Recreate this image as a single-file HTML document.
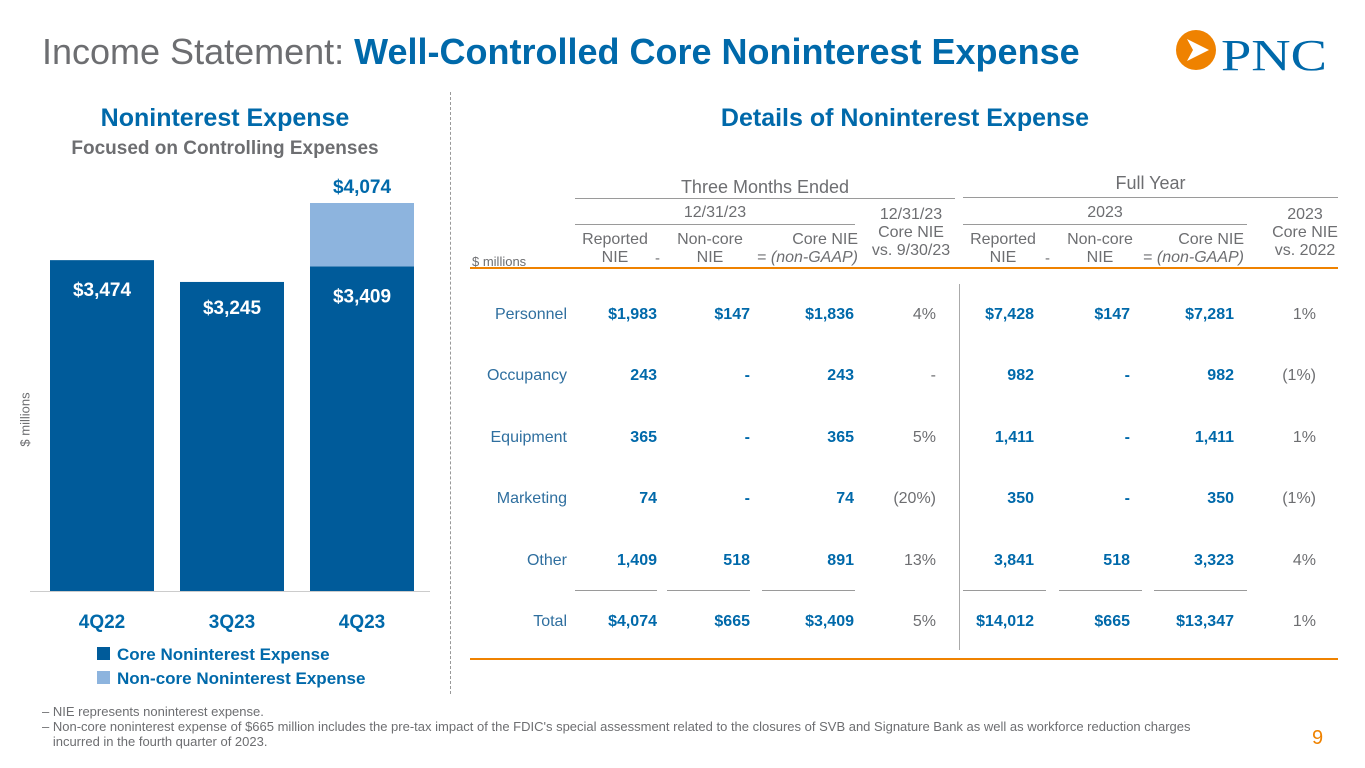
<!DOCTYPE html>
<html><head><meta charset="utf-8"><style>
*{margin:0;padding:0;box-sizing:border-box}
body{width:1365px;height:768px;background:#fff;font-family:"Liberation Sans",sans-serif;position:relative;overflow:hidden;color:#6d6e71}
.a{position:absolute;white-space:nowrap}
.b{color:#0069aa;font-weight:bold}
.r{text-align:right}
.c{text-align:center}
.hd{font-size:15px;color:#6d6e71;line-height:18px;position:absolute;text-align:center}
.v{position:absolute;font-size:16px;font-weight:bold;color:#0069aa;text-align:right;width:100px}
.p{position:absolute;font-size:16px;color:#6d6e71;text-align:right;width:100px}
.ln{position:absolute;height:1px;background:#9a9a9a}
</style></head><body>
<div class="a" style="left:42px;top:31px;font-size:36px;color:#6d6e71">Income Statement: <span class="b">Well-Controlled Core Noninterest Expense</span></div>
<svg class="a" style="left:1172px;top:28px" width="165" height="52" viewBox="0 0 165 52">
<circle cx="24" cy="22" r="20" fill="#ef8200"/><polygon points="15,11 37,22 15,33 21,22" fill="#fff"/>
<text x="49" y="42" font-family="Liberation Serif" font-size="44" fill="#0069aa" textLength="106" lengthAdjust="spacingAndGlyphs">PNC</text></svg>
<div class="a b c" style="left:60px;width:330px;top:104px;font-size:25px">Noninterest Expense</div>
<div class="a b c" style="left:60px;width:330px;top:138px;font-size:19px;color:#6d6e71">Focused on Controlling Expenses</div>
<div class="a" style="left:-2px;top:412px;font-size:13px;transform:rotate(-90deg)">$ millions</div>
<div class="a" style="left:450px;top:92px;height:602px;border-left:1px dashed #999"></div>
<svg class="a" style="left:0;top:0" width="450" height="700" id="chart"></svg>
<div class="a" style="left:97px;top:645px;font-size:17px;font-weight:bold;color:#0069aa"><span style="display:inline-block;width:13px;height:13px;background:#005b9a;margin-right:7px"></span>Core Noninterest Expense</div>
<div class="a" style="left:97px;top:669px;font-size:17px;font-weight:bold;color:#0069aa"><span style="display:inline-block;width:13px;height:13px;background:#8db4de;margin-right:7px"></span>Non-core Noninterest Expense</div>

<div class="a b c" style="left:650px;width:510px;top:104px;font-size:25px">Details of Noninterest Expense</div>
<div class="hd" style="left:575px;width:380px;top:178px;font-size:18px">Three Months Ended</div>
<div class="ln" style="left:575px;top:198px;width:380px"></div>
<div class="hd" style="left:963px;width:375px;top:174px;font-size:18px">Full Year</div>
<div class="ln" style="left:963px;top:197px;width:375px"></div>
<div class="hd" style="left:575px;width:280px;top:204px;font-size:16px">12/31/23</div>
<div class="ln" style="left:575px;top:224px;width:280px"></div>
<div class="hd" style="left:860px;width:102px;top:206px;font-size:16px">12/31/23<br>Core NIE<br>vs. 9/30/23</div>
<div class="hd" style="left:963px;width:284px;top:204px;font-size:16px">2023</div>
<div class="ln" style="left:963px;top:224px;width:284px"></div>
<div class="hd" style="left:1268px;width:74px;top:206px;font-size:16px">2023<br>Core NIE<br>vs. 2022</div>
<div class="hd" style="left:472px;top:253px;font-size:13px">$ millions</div>
<div class="hd" style="left:570px;width:90px;top:231px;font-size:16px">Reported<br>NIE</div><div class="hd" style="left:655px;top:250px">-</div>
<div class="hd" style="left:665px;width:90px;top:231px;font-size:16px">Non-core<br>NIE</div>
<div class="hd" style="left:754px;width:104px;top:231px;text-align:right;font-size:16px">Core NIE<br>= <i>(non-GAAP)</i></div>
<div class="hd" style="left:958px;width:90px;top:231px;font-size:16px">Reported<br>NIE</div><div class="hd" style="left:1045px;top:250px">-</div>
<div class="hd" style="left:1055px;width:90px;top:231px;font-size:16px">Non-core<br>NIE</div>
<div class="hd" style="left:1136px;width:108px;top:231px;text-align:right;font-size:16px">Core NIE<br>= <i>(non-GAAP)</i></div>
<div class="a" style="left:470px;top:267px;width:868px;height:2px;background:#ef8200"></div>
<div class="a" style="left:470px;top:658px;width:868px;height:2px;background:#ef8200"></div>
<div class="a" style="left:959px;top:284px;height:366px;width:1px;background:#aaa"></div>
<div id="tbl"></div>
<div class="ln" style="left:575px;top:590px;width:82px"></div><div class="ln" style="left:667px;top:590px;width:83px"></div><div class="ln" style="left:762px;top:590px;width:93px"></div>
<div class="ln" style="left:963px;top:590px;width:83px"></div><div class="ln" style="left:1059px;top:590px;width:83px"></div><div class="ln" style="left:1154px;top:590px;width:93px"></div>

<div class="a" style="left:42px;top:704px;font-size:13px;line-height:15px;color:#6d6e71">– NIE represents noninterest expense.<br>– Non-core noninterest expense of $665 million includes the pre-tax impact of the FDIC's special assessment related to the closures of SVB and Signature Bank as well as workforce reduction charges<br>&nbsp;&nbsp;&nbsp;incurred in the fourth quarter of 2023.</div>
<div class="a" style="left:1312px;top:727px;font-size:20px;color:#ef8200">9</div>
<script>
const categories=["4Q22","3Q23","4Q23"];
const coreVals=[3474,3245,3409];
const noncoreVals=[0,0,665];
const coreLabels=["$3,474","$3,245","$3,409"];
const totalLabel="$4,074";
const svg=document.getElementById('chart');const NS="http://www.w3.org/2000/svg";
const base=591,k=388/4074;const y=v=>base-v*k;const xs=i=>50+i*130;
function el(t,a,txt){const e=document.createElementNS(NS,t);for(const n in a)e.setAttribute(n,a[n]);if(txt)e.textContent=txt;svg.appendChild(e);return e;}
categories.forEach((c,i)=>{
 const r=el('rect',{x:xs(i),y:y(coreVals[i]),width:104,height:coreVals[i]*k,fill:'#005b9a'});
 
 
 if(noncoreVals[i]>0){const n=el('rect',{x:xs(i),y:y(coreVals[i]+noncoreVals[i]),width:104,height:noncoreVals[i]*k,fill:'#8db4de'});
 
 
 const t=el('text',{x:xs(i)+52,y:y(coreVals[i]+noncoreVals[i])-10,'text-anchor':'middle','font-size':19,'font-weight':'bold',fill:'#0069aa'},totalLabel);
 
 }
 const l=el('text',{x:xs(i)+52,y:y(coreVals[i])+(i==1?32:36),'text-anchor':'middle','font-size':19,'font-weight':'bold',fill:'#fff'},coreLabels[i]);
 
 
 const xl=el('text',{x:xs(i)+52,y:628,'text-anchor':'middle','font-size':19,'font-weight':'bold',fill:'#0069aa'},c);
 
 
});
el('line',{x1:30,x2:430,y1:591.5,y2:591.5,stroke:'#ccc'});
const rows=["Personnel","Occupancy","Equipment","Marketing","Other","Total"];
const qRep=["$1,983","243","365","74","1,409","$4,074"];
const qNon=["$147","-","-","-","518","$665"];
const qCore=["$1,836","243","365","74","891","$3,409"];
const qPct=["4%","-","5%","(20%)","13%","5%"];
const fRep=["$7,428","982","1,411","350","3,841","$14,012"];
const fNon=["$147","-","-","-","518","$665"];
const fCore=["$7,281","982","1,411","350","3,323","$13,347"];
const fPct=["1%","(1%)","1%","(1%)","4%","1%"];
const tbl=document.getElementById('tbl');
rows.forEach((r,i)=>{
 const top=306+i*61.4;
 const cells=[[r,567,'p'],[qRep[i],657,'v'],[qNon[i],750,'v'],[qCore[i],854,'v'],[qPct[i],936,'p'],[fRep[i],1034,'v'],[fNon[i],1130,'v'],[fCore[i],1234,'v'],[fPct[i],1316,'p']];
 cells.forEach(([t,rx,cl],j)=>{const d=document.createElement('div');d.className=cl;d.style.left=(rx-100)+'px';d.style.top=top+'px';d.textContent=t;
 if(j==0)d.style.color='#2f6f9f';
 
 
 tbl.appendChild(d);});
});
</script>
</body></html>
